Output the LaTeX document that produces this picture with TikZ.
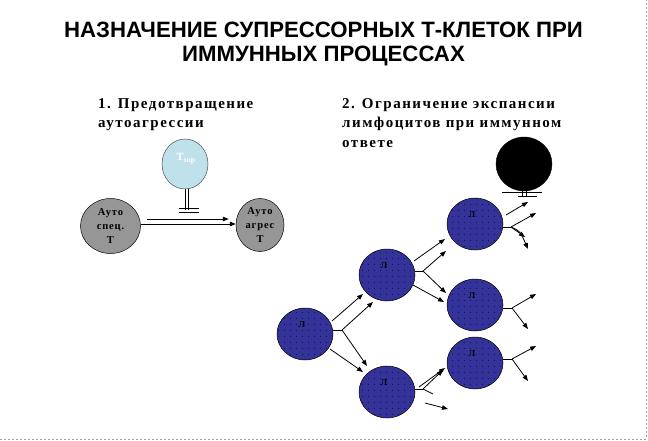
\documentclass[tikz,border=0pt]{standalone}
\usepackage{fontspec}
\setmainfont{Liberation Serif}
\newfontfamily\titlefont{Liberation Sans}
\newfontfamily\subfont{Liberation Serif}[LetterSpace=10]
\newfontfamily\cellfont{Liberation Serif}[LetterSpace=8]
\usetikzlibrary{arrows.meta,patterns.meta,shapes.geometric}
\definecolor{cellblue}{RGB}{51,51,153}
\definecolor{cellgray}{RGB}{150,150,150}
\definecolor{supcyan}{RGB}{190,225,235}
\definecolor{framegray}{RGB}{160,160,160}
\tikzdeclarepattern{
  name=sparsedots,
  type=uncolored,
  bounding box={(0,0) and (6pt,6pt)},
  tile size={(6pt,6pt)},
  code={\fill (3pt,3pt) circle (0.45pt);}
}
\tikzset{
  ln/.style={draw=black, line width=0.8pt},
  arr/.style={ln, -{Triangle[length=6pt,width=4.5pt]}},
  lymph/.style={ellipse, draw=black, line width=0.5pt, fill=cellblue,
    postaction={pattern=sparsedots, pattern color=black},
    minimum width=56pt, minimum height=52pt, inner sep=0pt},
  lbltext/.style={font=\bfseries\fontsize{9}{9}\selectfont, text=black, inner sep=0pt},
  graycell/.style={ellipse, draw=black, line width=0.5pt, fill=cellgray, inner sep=0pt,
    align=center, font=\cellfont\bfseries\fontsize{10.5}{14}\selectfont},
  titletext/.style={anchor=base, font=\titlefont\bfseries\fontsize{22.2}{24}\selectfont},
  subtext/.style={anchor=base west, inner sep=0pt, font=\subfont\bfseries\fontsize{15}{16}\selectfont}
}
\begin{document}
\begin{tikzpicture}[x=1pt,y=-1pt]
\useasboundingbox (0,0) rectangle (648,441);
% frame (right and bottom)
\draw[framegray, line width=0.8pt, dash pattern=on 2pt off 2pt] (0,439) coordinate (fbl) -- (646,439) coordinate (fbr) -- (646,0) coordinate (ftr);

% title
\node[titletext] (t1) at (323.5,38) {НАЗНАЧЕНИЕ СУПРЕССОРНЫХ Т-КЛЕТОК ПРИ};
\node[titletext] (t2) at (323.5,62) {ИММУННЫХ ПРОЦЕССАХ};

% subtitles
\node[subtext] (s11) at (98,108.5) {1. Предотвращение};
\node[subtext] (s12) at (98,128) {аутоагрессии};
\node[subtext] (s21) at (342,108.5) {2. Ограничение экспансии};
\node[subtext] (s22) at (342,128) {лимфоцитов при иммунном};
\node[subtext] (s23) at (342,147.5) {ответе};

% ---------- part 1 ----------
\node[ellipse, draw=black!70, line width=0.5pt, fill=supcyan, minimum width=46pt, minimum height=50pt, inner sep=0pt] (ts) at (185,164) {};
\node[text=white, font=\bfseries\fontsize{11}{11}\selectfont, inner sep=0pt] (tslbl) at (186,159) {Т\textsubscript{sup}};
\coordinate (tsa1) at (185.5,188.5);
\coordinate (tsa2) at (188.5,188.5);
\coordinate (tsb1) at (185.5,210);
\coordinate (tsb2) at (188.5,210);
\draw[ln, line width=0.7pt] (tsa1) -- (tsb1);
\draw[ln, line width=0.7pt] (tsa2) -- (tsb2);
\coordinate (tbar1l) at (179,208);
\coordinate (tbar1r) at (199,208);
\coordinate (tbar2l) at (179,212);
\coordinate (tbar2r) at (199,212);
\draw[ln, line width=0.7pt] (tbar1l) -- (tbar1r);
\draw[ln, line width=0.7pt] (tbar2l) -- (tbar2r);

\node[graycell, minimum width=60pt, minimum height=55pt] (as) at (110.5,226) {Ауто\\спец.\\Т};
\node[graycell, minimum width=48pt, minimum height=53pt] (ag) at (260,225) {Ауто\\агрес\\Т};

\coordinate (dl1) at (147,219);
\coordinate (dl2) at (141,224);
\draw[arr] (dl1) -- ([xshift=-7pt]ag.west |- dl1);
\draw[arr] (dl2) -- (ag.west |- dl2);

% ---------- part 2 ----------
\node[ellipse, fill=black, draw=black, minimum width=56pt, minimum height=54pt, inner sep=0pt] (bk) at (524,164) {};
\coordinate (bka1) at (522,190);
\coordinate (bka2) at (526,190);
\coordinate (bkb1) at (522,197);
\coordinate (bkb2) at (526,197);
\draw[ln, line width=0.7pt] (bka1) -- (bkb1);
\draw[ln, line width=0.7pt] (bka2) -- (bkb2);
\coordinate (bbar1l) at (502,192);
\coordinate (bbar1r) at (542,192);
\coordinate (bbar2l) at (518,196.5);
\coordinate (bbar2r) at (537,196.5);
\draw[ln, line width=0.7pt] (bbar1l) -- (bbar1r);
\draw[ln, line width=0.7pt] (bbar2l) -- (bbar2r);

\node[lymph, label={[lbltext, xshift=-3pt, yshift=9pt]center:Л}] (A) at (305,334) {};
\node[lymph, label={[lbltext, xshift=-3pt, yshift=9pt]center:Л}] (B) at (387,275) {};
\node[lymph, label={[lbltext, xshift=-3pt, yshift=9pt]center:Л}] (C) at (387,392) {};
\node[lymph, label={[lbltext, xshift=-3pt, yshift=9pt]center:Л}] (D) at (475,224) {};
\node[lymph, label={[lbltext, xshift=-3pt, yshift=9pt]center:Л}] (E) at (475,305) {};
\node[lymph, label={[lbltext, xshift=-3pt, yshift=9pt]center:Л}] (F) at (475,363) {};

% from A
\coordinate (jA) at (342,330);
\coordinate (a1s) at (332,321);
\coordinate (a1e) at (363,294);
\coordinate (a2e) at (373,302);
\coordinate (a3e) at (367,366);
\coordinate (a4s) at (330,349);
\coordinate (a4e) at (363,372);
\draw[ln] (jA -| A.east) -- (jA);
\draw[arr] (a1s) -- (a1e);
\draw[arr] (jA) -- (a2e);
\draw[arr] (jA) -- (a3e);
\draw[arr] (a4s) -- (a4e);

% from B
\coordinate (jB) at (423,271);
\coordinate (b1s) at (414,261);
\coordinate (b1e) at (445,239);
\coordinate (b2e) at (446,251);
\coordinate (b3e) at (446,293);
\coordinate (b4s) at (413,285);
\coordinate (b4e) at (444,302);
\draw[ln] (jB -| B.east) -- (jB);
\draw[arr] (b1s) -- (b1e);
\draw[arr] (jB) -- (b2e);
\draw[arr] (jB) -- (b3e);
\draw[arr] (b4s) -- (b4e);

% from C
\coordinate (jC) at (423,389);
\coordinate (c1s) at (419,387);
\coordinate (c1e) at (445,368);
\coordinate (c2e) at (443,370);
\coordinate (c3e) at (433,394);
\coordinate (c4s) at (425,403);
\coordinate (c4e) at (448,409);
\draw[ln] (jC -| C.east) -- (jC);
\draw[arr] (c1s) -- (c1e);
\draw[arr] (jC) -- (c2e);
\draw[ln] (jC) -- (c3e);
\draw[arr] (c4s) -- (c4e);

% from D
\coordinate (jD) at (511,227);
\coordinate (d1s) at (506,215);
\coordinate (d1e) at (528,202);
\coordinate (d2e) at (536,213);
\coordinate (d3e) at (525,237);
\coordinate (d4e) at (528,249);
\draw[ln] (jD -| D.east) -- (jD);
\draw[arr] (d1s) -- (d1e);
\draw[arr] (jD) -- (d2e);
\draw[arr] (jD) -- (d3e);
\draw[arr] (jD) .. controls (520,231) .. (d4e);

% from E
\coordinate (jE) at (512,308);
\coordinate (e1e) at (536,294);
\coordinate (e2e) at (528,329);
\draw[ln] (jE -| E.east) -- (jE);
\draw[arr] (jE) -- (e1e);
\draw[arr] (jE) -- (e2e);

% from F
\coordinate (jF) at (512,359);
\coordinate (f1e) at (536,346);
\coordinate (f2e) at (528,381);
\draw[ln] (jF -| F.east) -- (jF);
\draw[arr] (jF) -- (f1e);
\draw[arr] (jF) -- (f2e);
\end{tikzpicture}
\end{document}
